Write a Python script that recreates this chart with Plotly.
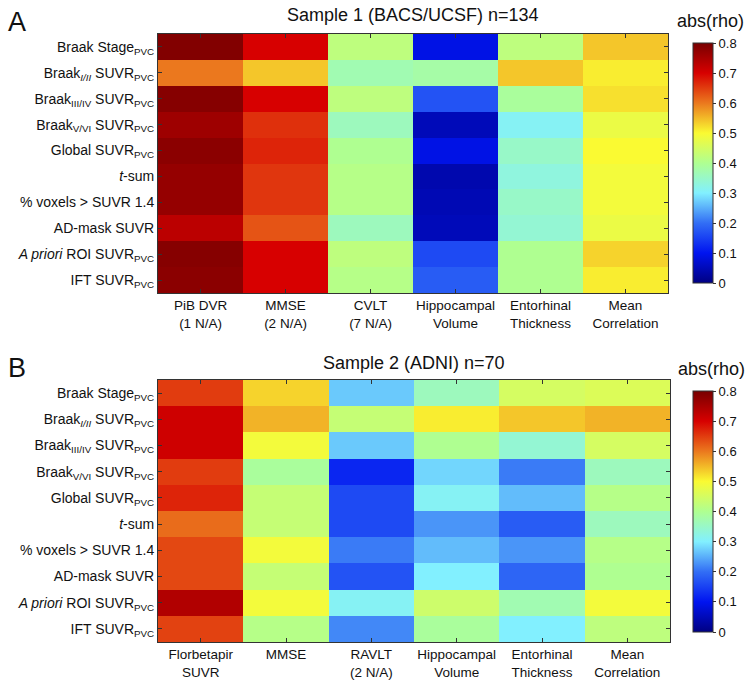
import plotly.graph_objects as go

rows = [
    "Braak Stage<sub>PVC</sub>",
    "Braak<sub><i>I/II</i></sub> SUVR<sub>PVC</sub>",
    "Braak<sub>III/IV</sub> SUVR<sub>PVC</sub>",
    "Braak<sub>V/VI</sub> SUVR<sub>PVC</sub>",
    "Global SUVR<sub>PVC</sub>",
    "<i>t</i>-sum",
    "% voxels > SUVR 1.4",
    "AD-mask SUVR",
    "<i>A priori</i> ROI SUVR<sub>PVC</sub>",
    "IFT SUVR<sub>PVC</sub>",
]

cols_a = ["PiB DVR<br>(1 N/A)", "MMSE<br>(2 N/A)", "CVLT<br>(7 N/A)",
          "Hippocampal<br>Volume", "Entorhinal<br>Thickness", "Mean<br>Correlation"]
cols_b = ["Florbetapir<br>SUVR", "MMSE", "RAVLT<br>(2 N/A)",
          "Hippocampal<br>Volume", "Entorhinal<br>Thickness", "Mean<br>Correlation"]

# Sample 1 values (per column, rows top to bottom)
a_pib = [0.79, 0.60, 0.785, 0.76, 0.78, 0.77, 0.77, 0.73, 0.785, 0.78]
a_mmse = [0.70, 0.54, 0.70, 0.66, 0.67, 0.655, 0.655, 0.63, 0.70, 0.70]
a_cvlt = [0.42, 0.37, 0.42, 0.36, 0.40, 0.41, 0.41, 0.36, 0.42, 0.41]
a_hipp = [0.09, 0.38, 0.17, 0.05, 0.09, 0.04, 0.045, 0.05, 0.16, 0.18]
a_ento = [0.42, 0.54, 0.39, 0.31, 0.35, 0.33, 0.35, 0.34, 0.40, 0.40]
a_mean = [0.54, 0.51, 0.52, 0.48, 0.50, 0.49, 0.49, 0.48, 0.53, 0.51]

# Sample 2 values
b_flor = [0.65, 0.71, 0.71, 0.65, 0.67, 0.61, 0.64, 0.64, 0.74, 0.645]
b_mmse = [0.53, 0.555, 0.49, 0.39, 0.43, 0.43, 0.49, 0.43, 0.49, 0.41]
b_ravlt = [0.27, 0.43, 0.27, 0.12, 0.16, 0.16, 0.21, 0.17, 0.31, 0.22]
b_hipp = [0.36, 0.51, 0.40, 0.28, 0.31, 0.23, 0.26, 0.30, 0.44, 0.39]
b_ento = [0.45, 0.54, 0.34, 0.21, 0.26, 0.18, 0.23, 0.19, 0.37, 0.30]
b_mean = [0.46, 0.555, 0.45, 0.36, 0.41, 0.36, 0.41, 0.40, 0.49, 0.42]

cb_ticks = [0, 0.1, 0.2, 0.3, 0.4, 0.5, 0.6, 0.7, 0.8]
cb_labels = ["0", "0.1", "0.2", "0.3", "0.4", "0.5", "0.6", "0.7", "0.8"]

z_a = [list(r) for r in zip(a_pib, a_mmse, a_cvlt, a_hipp, a_ento, a_mean)]
z_b = [list(r) for r in zip(b_flor, b_mmse, b_ravlt, b_hipp, b_ento, b_mean)]

cscale = [
    [0.0, "rgb(0,0,130)"],
    [0.125, "rgb(0,20,240)"],
    [0.25, "rgb(50,110,245)"],
    [0.375, "rgb(130,240,255)"],
    [0.5, "rgb(175,255,145)"],
    [0.625, "rgb(250,250,50)"],
    [0.75, "rgb(235,120,30)"],
    [0.875, "rgb(215,0,0)"],
    [1.0, "rgb(120,0,0)"],
]

W, H = 750, 687
def py(p):
    return 1 - p / H

FAM = "Liberation Sans, Arial, sans-serif"
INK = "#111"

def cbar(top, bottom):
    return dict(
        x=693 / W, xanchor="left", thickness=20, xpad=0, ypad=0,
        y=py((top + bottom) / 2), yanchor="middle",
        len=bottom - top, lenmode="pixels",
        tickvals=cb_ticks, ticktext=cb_labels,
        ticks="outside", ticklen=3, tickcolor="#333",
        tickfont=dict(size=13, family=FAM, color=INK),
        outlinewidth=1, outlinecolor="#333",
    )

fig = go.Figure()
fig.add_trace(go.Heatmap(z=z_a, x=cols_a, y=rows, xaxis="x", yaxis="y",
                         colorscale=cscale, zmin=0, zmax=0.8,
                         colorbar=cbar(43, 283)))
fig.add_trace(go.Heatmap(z=z_b, x=cols_b, y=rows, xaxis="x2", yaxis="y2",
                         colorscale=cscale, zmin=0, zmax=0.8,
                         colorbar=cbar(391, 632)))

def ax(size):
    return dict(showline=True, linecolor="#333", linewidth=1, mirror="ticks",
                ticks="inside", ticklen=4, tickcolor="#333", showgrid=False,
                zeroline=False, automargin=False,
                tickfont=dict(size=size, family=FAM, color=INK))

fig.update_layout(
    width=W, height=H, margin=dict(l=0, r=0, t=0, b=0, autoexpand=False),
    paper_bgcolor="white", plot_bgcolor="white",
    font=dict(family=FAM, size=13, color=INK),
    xaxis=dict(domain=[158 / W, 668 / W], anchor="y", **ax(13.5)),
    yaxis=dict(domain=[py(293), py(34)], anchor="x", autorange="reversed", **ax(14)),
    xaxis2=dict(domain=[158 / W, 670 / W], anchor="y2", **ax(13.5)),
    yaxis2=dict(domain=[py(642), py(380)], anchor="x2", autorange="reversed", **ax(14)),
    annotations=[
        dict(text="Sample 1 (BACS/UCSF) n=134", x=413 / W, y=py(15), xref="paper", yref="paper",
             xanchor="center", yanchor="middle", showarrow=False,
             font=dict(size=18, family=FAM, color=INK)),
        dict(text="Sample 2 (ADNI) n=70", x=414 / W, y=py(363), xref="paper", yref="paper",
             xanchor="center", yanchor="middle", showarrow=False,
             font=dict(size=18, family=FAM, color=INK)),
        dict(text="A", x=17 / W, y=py(22), xref="paper", yref="paper",
             xanchor="center", yanchor="middle", showarrow=False,
             font=dict(size=27, family=FAM, color=INK)),
        dict(text="B", x=17 / W, y=py(368), xref="paper", yref="paper",
             xanchor="center", yanchor="middle", showarrow=False,
             font=dict(size=27, family=FAM, color=INK)),
        dict(text="abs(rho)", x=710 / W, y=py(21), xref="paper", yref="paper",
             xanchor="center", yanchor="middle", showarrow=False,
             font=dict(size=18, family=FAM, color=INK)),
        dict(text="abs(rho)", x=711 / W, y=py(369), xref="paper", yref="paper",
             xanchor="center", yanchor="middle", showarrow=False,
             font=dict(size=18, family=FAM, color=INK)),
    ],
)

fig.write_html("out.html", config={"displayModeBar": False},
               post_script="document.body.style.margin='0';document.body.style.overflow='hidden';")
